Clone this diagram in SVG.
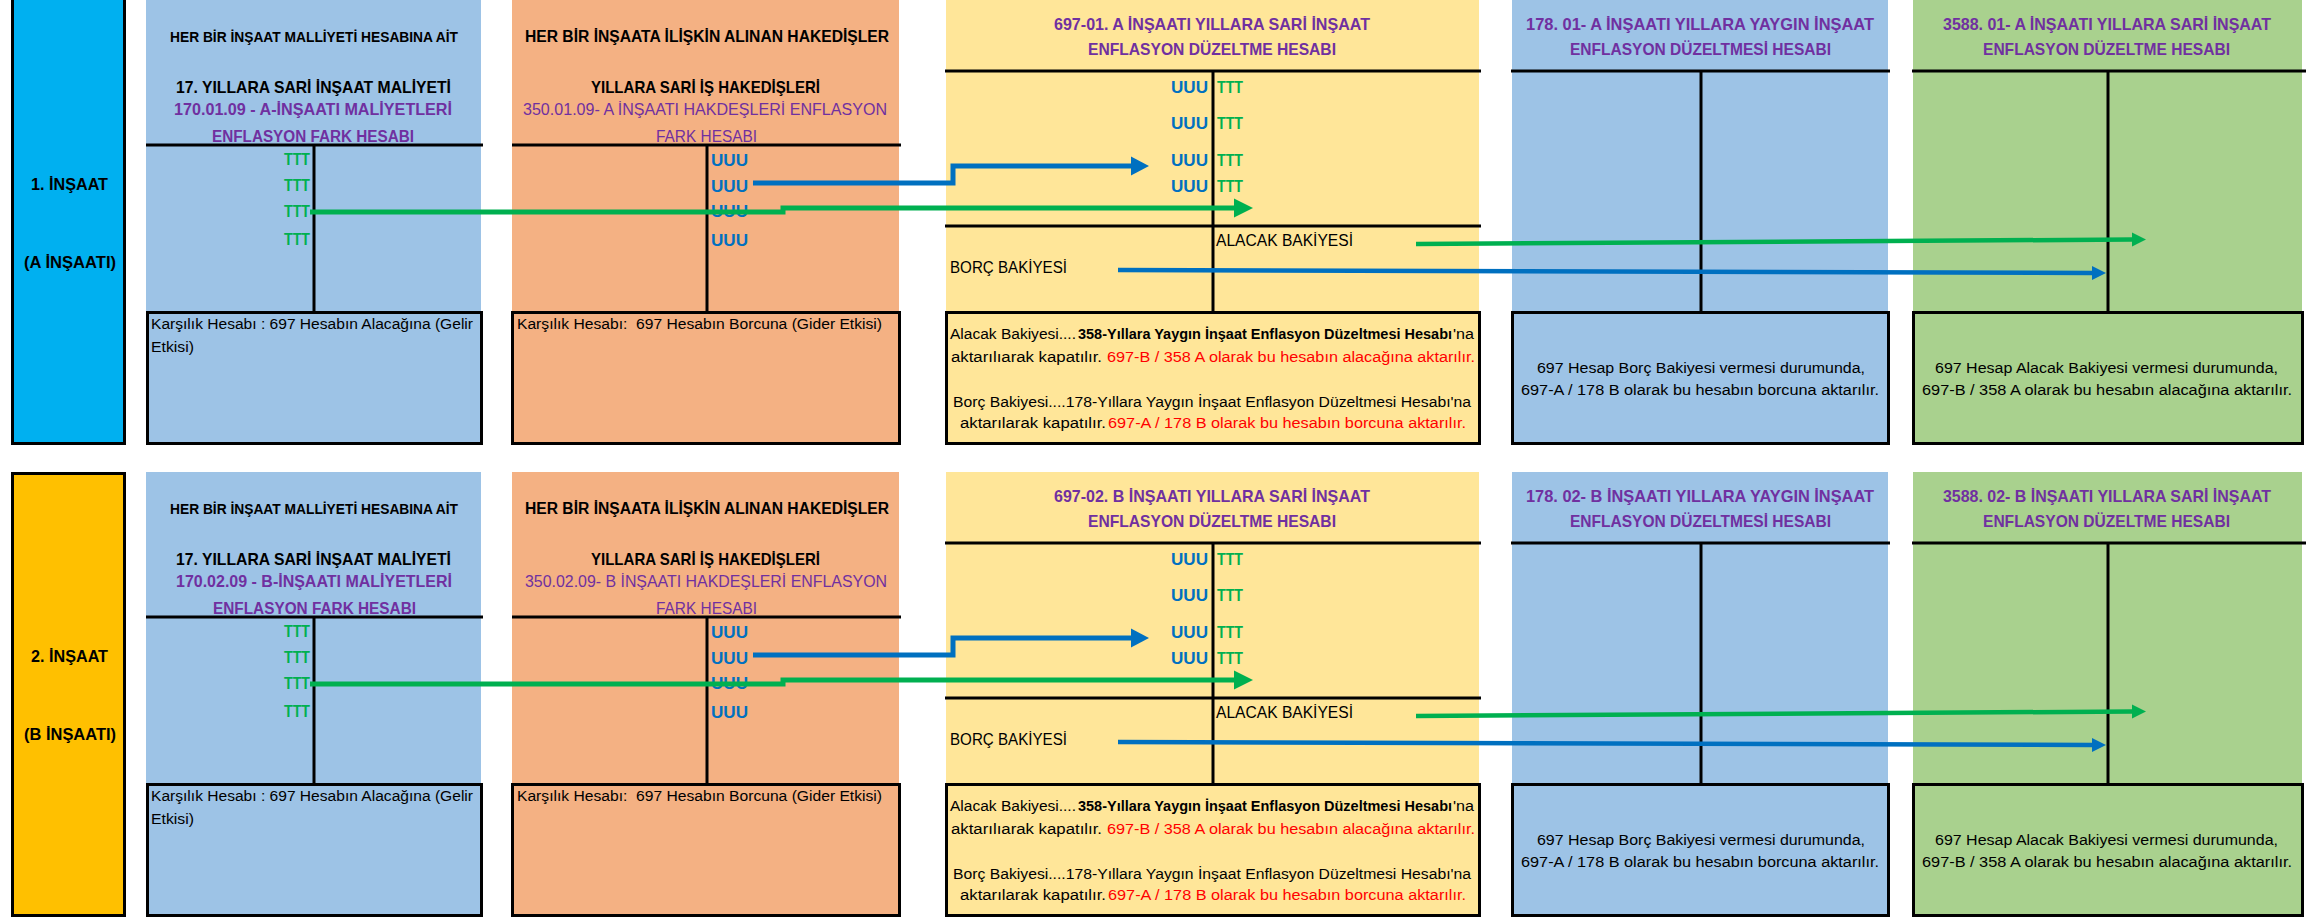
<svg xmlns="http://www.w3.org/2000/svg" width="2306" height="918" viewBox="0 0 2306 918">
<style>
text{font-family:"Liberation Sans",Arial,sans-serif;fill:#000}
.b{font-weight:bold}
.p{fill:#7030A0}
.g{fill:#00B050}
.u{fill:#0070C0}
.r{fill:#FF0000}
.s14{font-size:14px}
.s16{font-size:16px}
.s17{font-size:17px}
.ln{stroke:#000;stroke-width:3;fill:none}
.cyan{fill:#00B0F0;stroke:#000;stroke-width:3}
.gold{fill:#FFC000;stroke:#000;stroke-width:3}
.lb{fill:#9DC3E6}
.or{fill:#F4B183}
.ye{fill:#FFE699}
.gr{fill:#A9D18E}
.box{stroke:#000;stroke-width:3}
.cb{stroke:#0070C0;fill:none}
.cg{stroke:#00B050;fill:none}
</style>
<defs>
<marker id="bigB" markerUnits="userSpaceOnUse" viewBox="0 0 18 20" markerWidth="18" markerHeight="20" refX="0" refY="10" orient="auto"><path d="M0,0.5 L18,10 L0,19.5 Z" fill="#0070C0"/></marker>
<marker id="bigG" markerUnits="userSpaceOnUse" viewBox="0 0 19 20" markerWidth="19" markerHeight="20" refX="0" refY="10" orient="auto"><path d="M0,0.5 L19,10 L0,19.5 Z" fill="#00B050"/></marker>
<marker id="smB" markerUnits="userSpaceOnUse" viewBox="0 0 14 15" markerWidth="14" markerHeight="15" refX="0" refY="7.5" orient="auto"><path d="M0,0.5 L14,7.5 L0,14.5 Z" fill="#0070C0"/></marker>
<marker id="smG" markerUnits="userSpaceOnUse" viewBox="0 0 14 15" markerWidth="14" markerHeight="15" refX="0" refY="7.5" orient="auto"><path d="M0,0.5 L14,7.5 L0,14.5 Z" fill="#00B050"/></marker>
</defs>
<rect x="0" y="0" width="2306" height="918" fill="#FFFFFF"/>

<!-- ROW 1 -->
<g id="row1">
<g id="side-1">
<rect class="cyan" x="12.5" y="-3" width="112" height="446.5"/>
<text class="b s17" x="31" y="190" textLength="77" lengthAdjust="spacingAndGlyphs">1. İNŞAAT</text>
<text class="b s17" x="24" y="268" textLength="92" lengthAdjust="spacingAndGlyphs">(A İNŞAATI)</text>
</g>
<g id="acc-170-01">
<rect class="lb" x="146" y="0" width="335" height="312"/>
<line class="ln" x1="146" y1="145" x2="483" y2="145"/>
<line class="ln" x1="314" y1="145" x2="314" y2="312"/>
<rect class="lb box" x="147.5" y="312.5" width="334" height="131"/>
<text class="b s14" x="170" y="42" textLength="288" lengthAdjust="spacingAndGlyphs">HER BİR İNŞAAT MALLİYETİ HESABINA AİT</text>
<text class="b s17" x="176" y="93" textLength="275" lengthAdjust="spacingAndGlyphs">17. YILLARA SARİ İNŞAAT MALİYETİ</text>
<text class="b s16 p" x="174" y="115" textLength="278" lengthAdjust="spacingAndGlyphs">170.01.09 - A-İNŞAATI MALİYETLERİ</text>
<text class="b s16 p" x="212" y="142" textLength="202" lengthAdjust="spacingAndGlyphs">ENFLASYON FARK HESABI</text>
<text class="b s16 g" x="284" y="165" textLength="26" lengthAdjust="spacingAndGlyphs">TTT</text>
<text class="b s16 g" x="284" y="191" textLength="26" lengthAdjust="spacingAndGlyphs">TTT</text>
<text class="b s16 g" x="284" y="217" textLength="26" lengthAdjust="spacingAndGlyphs">TTT</text>
<text class="b s16 g" x="284" y="245" textLength="26" lengthAdjust="spacingAndGlyphs">TTT</text>
<text class="s14" x="151" y="329" textLength="322" lengthAdjust="spacingAndGlyphs">Karşılık Hesabı : 697 Hesabın Alacağına (Gelir</text>
<text class="s14" x="151" y="352" textLength="43" lengthAdjust="spacingAndGlyphs">Etkisi)</text>
</g>
<g id="acc-350-01">
<rect class="or" x="512" y="0" width="387" height="312"/>
<line class="ln" x1="512" y1="145" x2="901" y2="145"/>
<line class="ln" x1="707" y1="145" x2="707" y2="312"/>
<rect class="or box" x="512.5" y="312.5" width="387" height="131"/>
<text class="b s16" x="525" y="42" textLength="364" lengthAdjust="spacingAndGlyphs">HER BİR İNŞAATA İLİŞKİN ALINAN HAKEDİŞLER</text>
<text class="b s17" x="591" y="93" textLength="229" lengthAdjust="spacingAndGlyphs">YILLARA SARİ İŞ HAKEDİŞLERİ</text>
<text class="s16 p" x="523" y="115" textLength="364" lengthAdjust="spacingAndGlyphs">350.01.09- A İNŞAATI HAKDEŞLERİ ENFLASYON</text>
<text class="s16 p" x="656" y="142" textLength="101" lengthAdjust="spacingAndGlyphs">FARK HESABI</text>
<text class="b s16 u" x="711" y="166" textLength="37" lengthAdjust="spacingAndGlyphs">UUU</text>
<text class="b s16 u" x="711" y="192" textLength="37" lengthAdjust="spacingAndGlyphs">UUU</text>
<text class="b s16 u" x="711" y="217" textLength="37" lengthAdjust="spacingAndGlyphs">UUU</text>
<text class="b s16 u" x="711" y="246" textLength="37" lengthAdjust="spacingAndGlyphs">UUU</text>
<text class="s14" x="517" y="329" textLength="365" lengthAdjust="spacingAndGlyphs" xml:space="preserve">Karşılık Hesabı:  697 Hesabın Borcuna (Gider Etkisi)</text>
</g>
<g id="acc-697-01">
<rect class="ye" x="946" y="0" width="533" height="312"/>
<line class="ln" x1="945" y1="71" x2="1481" y2="71"/>
<line class="ln" x1="945" y1="226" x2="1481" y2="226"/>
<line class="ln" x1="1213" y1="71" x2="1213" y2="312"/>
<rect class="ye box" x="946.5" y="312.5" width="533" height="131"/>
<text class="b s17 p" x="1054" y="30" textLength="316" lengthAdjust="spacingAndGlyphs">697-01. A İNŞAATI YILLARA SARİ İNŞAAT</text>
<text class="b s17 p" x="1088" y="55" textLength="248" lengthAdjust="spacingAndGlyphs">ENFLASYON DÜZELTME HESABI</text>
<text class="b s16 u" x="1171" y="93" textLength="37" lengthAdjust="spacingAndGlyphs">UUU</text>
<text class="b s16 u" x="1171" y="129" textLength="37" lengthAdjust="spacingAndGlyphs">UUU</text>
<text class="b s16 u" x="1171" y="166" textLength="37" lengthAdjust="spacingAndGlyphs">UUU</text>
<text class="b s16 u" x="1171" y="192" textLength="37" lengthAdjust="spacingAndGlyphs">UUU</text>
<text class="b s16 g" x="1217" y="93" textLength="26" lengthAdjust="spacingAndGlyphs">TTT</text>
<text class="b s16 g" x="1217" y="129" textLength="26" lengthAdjust="spacingAndGlyphs">TTT</text>
<text class="b s16 g" x="1217" y="166" textLength="26" lengthAdjust="spacingAndGlyphs">TTT</text>
<text class="b s16 g" x="1217" y="192" textLength="26" lengthAdjust="spacingAndGlyphs">TTT</text>
<text class="s16" x="1216" y="246" textLength="137" lengthAdjust="spacingAndGlyphs">ALACAK BAKİYESİ</text>
<text class="s16" x="950" y="273" textLength="117" lengthAdjust="spacingAndGlyphs">BORÇ BAKİYESİ</text>
<text class="s14" x="950" y="339" textLength="126" lengthAdjust="spacingAndGlyphs">Alacak Bakiyesi....</text>
<text class="s14 b" x="1078" y="339" textLength="374" lengthAdjust="spacingAndGlyphs">358-Yıllara Yaygın İnşaat Enflasyon Düzeltmesi Hesabı</text>
<text class="s14" x="1453" y="339" textLength="21" lengthAdjust="spacingAndGlyphs">'na</text>
<text class="s14" x="951" y="362" textLength="151" lengthAdjust="spacingAndGlyphs">aktarılıarak kapatılır.</text>
<text class="s14 r" x="1107" y="362" textLength="368" lengthAdjust="spacingAndGlyphs">697-B / 358 A olarak bu hesabın alacağına aktarılır.</text>
<text class="s14" x="953" y="407" textLength="518" lengthAdjust="spacingAndGlyphs">Borç Bakiyesi....178-Yıllara Yaygın İnşaat Enflasyon Düzeltmesi Hesabı'na</text>
<text class="s14" x="960" y="428" textLength="146" lengthAdjust="spacingAndGlyphs">aktarılarak kapatılır.</text>
<text class="s14 r" x="1108" y="428" textLength="358" lengthAdjust="spacingAndGlyphs">697-A / 178 B olarak bu hesabın borcuna aktarılır.</text>
</g>
<g id="acc-178-01">
<rect class="lb" x="1512" y="0" width="376" height="312"/>
<line class="ln" x1="1511" y1="71" x2="1890" y2="71"/>
<line class="ln" x1="1701" y1="71" x2="1701" y2="312"/>
<rect class="lb box" x="1512.5" y="312.5" width="376" height="131"/>
<text class="b s17 p" x="1526" y="30" textLength="348" lengthAdjust="spacingAndGlyphs">178. 01- A İNŞAATI YILLARA YAYGIN İNŞAAT</text>
<text class="b s17 p" x="1570" y="55" textLength="261" lengthAdjust="spacingAndGlyphs">ENFLASYON DÜZELTMESİ HESABI</text>
<text class="s14" x="1537" y="373" textLength="328" lengthAdjust="spacingAndGlyphs">697 Hesap Borç Bakiyesi vermesi durumunda,</text>
<text class="s14" x="1521" y="395" textLength="358" lengthAdjust="spacingAndGlyphs">697-A / 178 B olarak bu hesabın borcuna aktarılır.</text>
</g>
<g id="acc-3588-01">
<rect class="gr" x="1913" y="0" width="389" height="312"/>
<line class="ln" x1="1912" y1="71" x2="2306" y2="71"/>
<line class="ln" x1="2108" y1="71" x2="2108" y2="312"/>
<rect class="gr box" x="1913.5" y="312.5" width="389" height="131"/>
<text class="b s17 p" x="1943" y="30" textLength="328" lengthAdjust="spacingAndGlyphs">3588. 01- A İNŞAATI YILLARA SARİ İNŞAAT</text>
<text class="b s17 p" x="1983" y="55" textLength="247" lengthAdjust="spacingAndGlyphs">ENFLASYON DÜZELTME HESABI</text>
<text class="s14" x="1935" y="373" textLength="343" lengthAdjust="spacingAndGlyphs">697 Hesap Alacak Bakiyesi vermesi durumunda,</text>
<text class="s14" x="1922" y="395" textLength="370" lengthAdjust="spacingAndGlyphs">697-B / 358 A olarak bu hesabın alacağına aktarılır.</text>
</g>
</g>

<!-- ROW 2 -->
<g id="row2" transform="translate(0,472)">
<g id="side-2">
<rect class="gold" x="12.5" y="1.5" width="112" height="442"/>
<text class="b s17" x="31" y="190" textLength="77" lengthAdjust="spacingAndGlyphs">2. İNŞAAT</text>
<text class="b s17" x="24" y="268" textLength="92" lengthAdjust="spacingAndGlyphs">(B İNŞAATI)</text>
</g>
<g id="acc-170-02">
<rect class="lb" x="146" y="0" width="335" height="312"/>
<line class="ln" x1="146" y1="145" x2="483" y2="145"/>
<line class="ln" x1="314" y1="145" x2="314" y2="312"/>
<rect class="lb box" x="147.5" y="312.5" width="334" height="131"/>
<text class="b s14" x="170" y="42" textLength="288" lengthAdjust="spacingAndGlyphs">HER BİR İNŞAAT MALLİYETİ HESABINA AİT</text>
<text class="b s17" x="176" y="93" textLength="275" lengthAdjust="spacingAndGlyphs">17. YILLARA SARİ İNŞAAT MALİYETİ</text>
<text class="b s16 p" x="176" y="115" textLength="276" lengthAdjust="spacingAndGlyphs">170.02.09 - B-İNŞAATI MALİYETLERİ</text>
<text class="b s16 p" x="213" y="142" textLength="203" lengthAdjust="spacingAndGlyphs">ENFLASYON FARK HESABI</text>
<text class="b s16 g" x="284" y="165" textLength="26" lengthAdjust="spacingAndGlyphs">TTT</text>
<text class="b s16 g" x="284" y="191" textLength="26" lengthAdjust="spacingAndGlyphs">TTT</text>
<text class="b s16 g" x="284" y="217" textLength="26" lengthAdjust="spacingAndGlyphs">TTT</text>
<text class="b s16 g" x="284" y="245" textLength="26" lengthAdjust="spacingAndGlyphs">TTT</text>
<text class="s14" x="151" y="329" textLength="322" lengthAdjust="spacingAndGlyphs">Karşılık Hesabı : 697 Hesabın Alacağına (Gelir</text>
<text class="s14" x="151" y="352" textLength="43" lengthAdjust="spacingAndGlyphs">Etkisi)</text>
</g>
<g id="acc-350-02">
<rect class="or" x="512" y="0" width="387" height="312"/>
<line class="ln" x1="512" y1="145" x2="901" y2="145"/>
<line class="ln" x1="707" y1="145" x2="707" y2="312"/>
<rect class="or box" x="512.5" y="312.5" width="387" height="131"/>
<text class="b s16" x="525" y="42" textLength="364" lengthAdjust="spacingAndGlyphs">HER BİR İNŞAATA İLİŞKİN ALINAN HAKEDİŞLER</text>
<text class="b s17" x="591" y="93" textLength="229" lengthAdjust="spacingAndGlyphs">YILLARA SARİ İŞ HAKEDİŞLERİ</text>
<text class="s16 p" x="525" y="115" textLength="362" lengthAdjust="spacingAndGlyphs">350.02.09- B İNŞAATI HAKDEŞLERİ ENFLASYON</text>
<text class="s16 p" x="656" y="142" textLength="101" lengthAdjust="spacingAndGlyphs">FARK HESABI</text>
<text class="b s16 u" x="711" y="166" textLength="37" lengthAdjust="spacingAndGlyphs">UUU</text>
<text class="b s16 u" x="711" y="192" textLength="37" lengthAdjust="spacingAndGlyphs">UUU</text>
<text class="b s16 u" x="711" y="217" textLength="37" lengthAdjust="spacingAndGlyphs">UUU</text>
<text class="b s16 u" x="711" y="246" textLength="37" lengthAdjust="spacingAndGlyphs">UUU</text>
<text class="s14" x="517" y="329" textLength="365" lengthAdjust="spacingAndGlyphs" xml:space="preserve">Karşılık Hesabı:  697 Hesabın Borcuna (Gider Etkisi)</text>
</g>
<g id="acc-697-02">
<rect class="ye" x="946" y="0" width="533" height="312"/>
<line class="ln" x1="945" y1="71" x2="1481" y2="71"/>
<line class="ln" x1="945" y1="226" x2="1481" y2="226"/>
<line class="ln" x1="1213" y1="71" x2="1213" y2="312"/>
<rect class="ye box" x="946.5" y="312.5" width="533" height="131"/>
<text class="b s17 p" x="1054" y="30" textLength="316" lengthAdjust="spacingAndGlyphs">697-02. B İNŞAATI YILLARA SARİ İNŞAAT</text>
<text class="b s17 p" x="1088" y="55" textLength="248" lengthAdjust="spacingAndGlyphs">ENFLASYON DÜZELTME HESABI</text>
<text class="b s16 u" x="1171" y="93" textLength="37" lengthAdjust="spacingAndGlyphs">UUU</text>
<text class="b s16 u" x="1171" y="129" textLength="37" lengthAdjust="spacingAndGlyphs">UUU</text>
<text class="b s16 u" x="1171" y="166" textLength="37" lengthAdjust="spacingAndGlyphs">UUU</text>
<text class="b s16 u" x="1171" y="192" textLength="37" lengthAdjust="spacingAndGlyphs">UUU</text>
<text class="b s16 g" x="1217" y="93" textLength="26" lengthAdjust="spacingAndGlyphs">TTT</text>
<text class="b s16 g" x="1217" y="129" textLength="26" lengthAdjust="spacingAndGlyphs">TTT</text>
<text class="b s16 g" x="1217" y="166" textLength="26" lengthAdjust="spacingAndGlyphs">TTT</text>
<text class="b s16 g" x="1217" y="192" textLength="26" lengthAdjust="spacingAndGlyphs">TTT</text>
<text class="s16" x="1216" y="246" textLength="137" lengthAdjust="spacingAndGlyphs">ALACAK BAKİYESİ</text>
<text class="s16" x="950" y="273" textLength="117" lengthAdjust="spacingAndGlyphs">BORÇ BAKİYESİ</text>
<text class="s14" x="950" y="339" textLength="126" lengthAdjust="spacingAndGlyphs">Alacak Bakiyesi....</text>
<text class="s14 b" x="1078" y="339" textLength="374" lengthAdjust="spacingAndGlyphs">358-Yıllara Yaygın İnşaat Enflasyon Düzeltmesi Hesabı</text>
<text class="s14" x="1453" y="339" textLength="21" lengthAdjust="spacingAndGlyphs">'na</text>
<text class="s14" x="951" y="362" textLength="151" lengthAdjust="spacingAndGlyphs">aktarılıarak kapatılır.</text>
<text class="s14 r" x="1107" y="362" textLength="368" lengthAdjust="spacingAndGlyphs">697-B / 358 A olarak bu hesabın alacağına aktarılır.</text>
<text class="s14" x="953" y="407" textLength="518" lengthAdjust="spacingAndGlyphs">Borç Bakiyesi....178-Yıllara Yaygın İnşaat Enflasyon Düzeltmesi Hesabı'na</text>
<text class="s14" x="960" y="428" textLength="146" lengthAdjust="spacingAndGlyphs">aktarılarak kapatılır.</text>
<text class="s14 r" x="1108" y="428" textLength="358" lengthAdjust="spacingAndGlyphs">697-A / 178 B olarak bu hesabın borcuna aktarılır.</text>
</g>
<g id="acc-178-02">
<rect class="lb" x="1512" y="0" width="376" height="312"/>
<line class="ln" x1="1511" y1="71" x2="1890" y2="71"/>
<line class="ln" x1="1701" y1="71" x2="1701" y2="312"/>
<rect class="lb box" x="1512.5" y="312.5" width="376" height="131"/>
<text class="b s17 p" x="1526" y="30" textLength="348" lengthAdjust="spacingAndGlyphs">178. 02- B İNŞAATI YILLARA YAYGIN İNŞAAT</text>
<text class="b s17 p" x="1570" y="55" textLength="261" lengthAdjust="spacingAndGlyphs">ENFLASYON DÜZELTMESİ HESABI</text>
<text class="s14" x="1537" y="373" textLength="328" lengthAdjust="spacingAndGlyphs">697 Hesap Borç Bakiyesi vermesi durumunda,</text>
<text class="s14" x="1521" y="395" textLength="358" lengthAdjust="spacingAndGlyphs">697-A / 178 B olarak bu hesabın borcuna aktarılır.</text>
</g>
<g id="acc-3588-02">
<rect class="gr" x="1913" y="0" width="389" height="312"/>
<line class="ln" x1="1912" y1="71" x2="2306" y2="71"/>
<line class="ln" x1="2108" y1="71" x2="2108" y2="312"/>
<rect class="gr box" x="1913.5" y="312.5" width="389" height="131"/>
<text class="b s17 p" x="1943" y="30" textLength="328" lengthAdjust="spacingAndGlyphs">3588. 02- B İNŞAATI YILLARA SARİ İNŞAAT</text>
<text class="b s17 p" x="1983" y="55" textLength="247" lengthAdjust="spacingAndGlyphs">ENFLASYON DÜZELTME HESABI</text>
<text class="s14" x="1935" y="373" textLength="343" lengthAdjust="spacingAndGlyphs">697 Hesap Alacak Bakiyesi vermesi durumunda,</text>
<text class="s14" x="1922" y="395" textLength="370" lengthAdjust="spacingAndGlyphs">697-B / 358 A olarak bu hesabın alacağına aktarılır.</text>
</g>
</g>

<!-- CONNECTORS -->
<g id="connectors">
<path class="cb" stroke-width="5" d="M753,183 H953 V166 H1131" marker-end="url(#bigB)"/>
<path class="cg" stroke-width="5" d="M310,212 H783 V208 H1234" marker-end="url(#bigG)"/>
<path class="cg" stroke-width="4.5" d="M1416,244 L2132,239.5" marker-end="url(#smG)"/>
<path class="cb" stroke-width="4.5" d="M1118,270 L2092,273" marker-end="url(#smB)"/>
<path class="cb" stroke-width="5" d="M753,655 H953 V638 H1131" marker-end="url(#bigB)"/>
<path class="cg" stroke-width="5" d="M310,684 H783 V680 H1234" marker-end="url(#bigG)"/>
<path class="cg" stroke-width="4.5" d="M1416,716 L2132,711.5" marker-end="url(#smG)"/>
<path class="cb" stroke-width="4.5" d="M1118,742 L2092,745" marker-end="url(#smB)"/>
</g>
</svg>
